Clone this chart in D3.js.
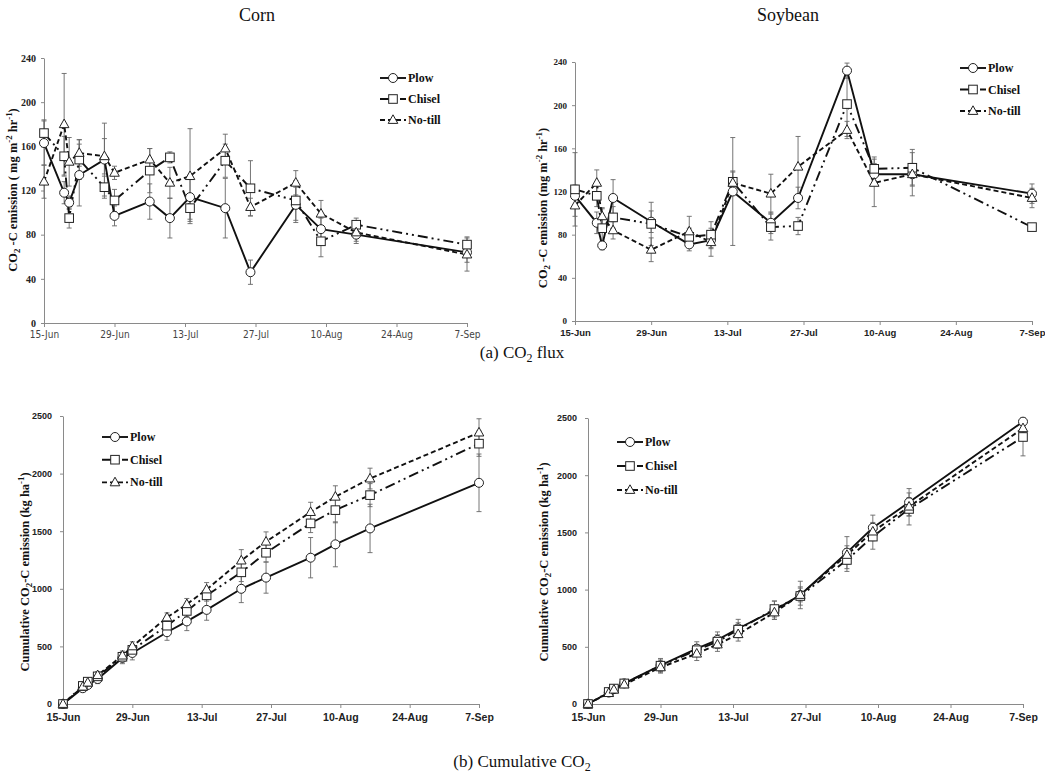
<!DOCTYPE html>
<html>
<head>
<meta charset="utf-8">
<script src="https://cdn.jsdelivr.net/npm/d3@7"></script>
<style>
  body { margin: 0; background: #fff; }
  svg { display: block; }
</style>
</head>
<body>
<div id="fig"></div>
<script>
// sampling dates
const cornDates = ["2011-06-15", "2011-06-19", "2011-06-20", "2011-06-22", "2011-06-27", "2011-06-29", "2011-07-06",
  "2011-07-10", "2011-07-14", "2011-07-21", "2011-07-26", "2011-08-04", "2011-08-09", "2011-08-16", "2011-09-07"];
const soyDates = ["2011-06-15", "2011-06-19", "2011-06-20", "2011-06-22", "2011-06-29", "2011-07-06",
  "2011-07-10", "2011-07-14", "2011-07-21", "2011-07-26", "2011-08-04", "2011-08-09", "2011-08-16", "2011-09-07"];
const tickDates = ["2011-06-15", "2011-06-29", "2011-07-13", "2011-07-27", "2011-08-10", "2011-08-24", "2011-09-07"];
const seriesNames = ["Plow", "Chisel", "No-till"];

// (a) CO2 flux, corn (mg m-2 hr-1)
const cornFluxPlow = [163, 118, 109, 134, 148, 97, 110, 95, 114, 104, 46, 107, 85, 80, 64];
const cornFluxChisel = [172, 151, 95, 148, 123, 111, 138, 150, 104, 147, 122, 111, 74, 89, 71];
const cornFluxNotill = [128, 180, 146, 154, 151, 136, 148, 127, 133, 158, 105, 127, 99, 82, 62];
const cornFluxPlowErr = [20, 10, 6, 28, 33, 9, 16, 18, 20, 27, 11, 16, 10, 8, 9];
const cornFluxChiselErr = [12, 18, 9, 18, 10, 10, 20, 5, 12, 15, 25, 18, 14, 6, 7];
const cornFluxNotillErr = [15, 46, 22, 12, 16, 6, 10, 14, 43, 13, 8, 11, 12, 8, 15];

// (a) CO2 flux, soybean
const soyFluxPlow = [116, 91, 70, 114, 92, 71, 75, 120, 91, 114, 232, 136, 136, 118];
const soyFluxChisel = [122, 116, 86, 96, 90, 78, 80, 129, 87, 88, 201, 141, 142, 87];
const soyFluxNotill = [107, 128, 97, 84, 66, 83, 73, 128, 118, 143, 177, 128, 136, 114];
const soyFluxPlowErr = [10, 10, 4, 17, 10, 6, 8, 50, 10, 10, 7, 10, 20, 9];
const soyFluxChiselErr = [34, 10, 18, 10, 20, 8, 12, 10, 12, 8, 30, 11, 17, 2];
const soyFluxNotillErr = [10, 12, 8, 8, 11, 14, 13, 10, 18, 28, 8, 22, 10, 9];

// (b) cumulative CO2-C, corn (kg ha-1)
const cornCumPlow = [0, 137, 165, 217, 400, 443, 623, 717, 817, 1000, 1097, 1270, 1386, 1524, 1920];
const cornCumChisel = [0, 157, 194, 240, 410, 470, 680, 808, 943, 1143, 1313, 1568, 1683, 1813, 2260];
const cornCumNotill = [0, 150, 185, 250, 420, 500, 751, 866, 994, 1245, 1409, 1666, 1799, 1957, 2356];
const cornCumPlowErr = [0, 20, 20, 40, 50, 60, 70, 80, 90, 120, 135, 175, 195, 210, 250];
const cornCumChiselErr = [0, 20, 20, 30, 30, 40, 40, 50, 50, 80, 80, 80, 110, 100, 110];
const cornCumNotillErr = [0, 20, 20, 30, 40, 40, 40, 50, 60, 95, 85, 85, 95, 90, 120];

// (b) cumulative CO2-C, soybean
const soyCumPlow = [0, 100, 130, 180, 338, 484, 560, 660, 820, 953, 1323, 1541, 1763, 2468];
const soyCumChisel = [0, 105, 135, 180, 335, 470, 545, 650, 830, 944, 1259, 1463, 1705, 2334];
const soyCumNotill = [0, 95, 125, 170, 320, 440, 520, 610, 800, 953, 1303, 1507, 1725, 2410];
const soyCumPlowErr = [0, 20, 20, 25, 60, 60, 70, 80, 80, 120, 140, 110, 120, 30];
const soyCumChiselErr = [0, 20, 20, 25, 50, 50, 60, 60, 70, 80, 100, 110, 140, 165];
const soyCumNotillErr = [0, 20, 20, 25, 50, 60, 60, 60, 60, 60, 80, 80, 80, 40];

const parse = d3.timeParse("%Y-%m-%d");
const fmt = d3.timeFormat("%-d-%b");

const styles = {
  "Plow": { dash: null, marker: "circle" },
  "Chisel": { dash: "10,4,2,4,2,4", marker: "square" },
  "No-till": { dash: "5,3", marker: "triangle" }
};

const svg = d3.select("#fig").append("svg")
  .attr("width", 1045)
  .attr("height", 773);

function drawMarker(g, type, x, y) {
  if (type === "circle") {
    g.append("circle").attr("cx", x).attr("cy", y).attr("r", 4.5)
      .attr("fill", "#fff").attr("stroke", "#222").attr("stroke-width", 1);
  } else if (type === "square") {
    g.append("rect").attr("x", x - 4.3).attr("y", y - 4.3).attr("width", 8.6).attr("height", 8.6)
      .attr("fill", "#fff").attr("stroke", "#222").attr("stroke-width", 1);
  } else {
    g.append("path").attr("d", `M${x},${y - 5.2}L${x + 4.8},${y + 3.4}L${x - 4.8},${y + 3.4}Z`)
      .attr("fill", "#fff").attr("stroke", "#222").attr("stroke-width", 1);
  }
}

function panel(cfg) {
  const g = svg.append("g");
  const dates = cfg.dates.map(parse);

  const x = d3.scaleTime()
    .domain([parse(tickDates[0]), parse(tickDates[tickDates.length - 1])])
    .range(cfg.xRange);
  const y = d3.scaleLinear()
    .domain(cfg.yDomain)
    .range(cfg.yRange);

  const xAxis = g.append("g")
    .attr("transform", `translate(0,${cfg.yRange[0]})`)
    .call(d3.axisBottom(x).tickValues(tickDates.map(parse)).tickFormat(fmt)
      .tickSize(4).tickSizeOuter(0).tickPadding(cfg.xPad));
  xAxis.selectAll("text")
    .attr("font-family", cfg.xFont)
    .attr("font-size", cfg.xSize)
    .attr("font-weight", cfg.xWeight)
    .attr("fill", cfg.xColor);

  const yAxis = g.append("g")
    .attr("transform", `translate(${cfg.xRange[0]},0)`)
    .call(d3.axisLeft(y).tickValues(cfg.yTicks).tickFormat(d3.format("d"))
      .tickSize(3).tickSizeOuter(0).tickPadding(cfg.yPad));
  yAxis.selectAll("text")
    .attr("font-family", cfg.yFont)
    .attr("font-size", cfg.ySize)
    .attr("font-weight", "bold")
    .attr("fill", "#222");

  g.selectAll(".domain, .tick line").attr("stroke", "#8a8a8a");

  // y axis title
  const t = g.append("text")
    .attr("transform", `translate(${cfg.titleX},${cfg.titleY}) rotate(-90)`)
    .attr("text-anchor", "middle")
    .attr("font-family", "'Liberation Serif', 'Times New Roman', serif")
    .attr("font-weight", "bold")
    .attr("font-size", cfg.titleSize)
    .attr("fill", "#111");
  cfg.title.forEach(([txt, kind]) => {
    const ts = t.append("tspan").text(txt);
    if (kind === "sub") ts.attr("font-size", cfg.titleSize * 0.7).attr("dy", 3);
    if (kind === "sup") ts.attr("font-size", cfg.titleSize * 0.7).attr("dy", -5);
    if (kind === "back") ts.attr("dy", -3);
    if (kind === "down") ts.attr("dy", 5);
  });

  const line = d3.line()
    .x(d => x(d.date))
    .y(d => y(d.v));

  const rows = cfg.series.map((vals, i) => ({
    name: seriesNames[i],
    pts: vals.map((v, j) => ({ date: dates[j], v: v, e: cfg.errors[i][j] }))
  }));

  // error bars
  rows.forEach(s => {
    s.pts.forEach(p => {
      if (!p.e) return;
      const cx = x(p.date);
      const y1 = y(p.v + p.e), y2 = y(p.v - p.e);
      g.append("line").attr("x1", cx).attr("x2", cx).attr("y1", y1).attr("y2", y2)
        .attr("stroke", "#666").attr("stroke-width", 0.9);
      [y1, y2].forEach(yy => {
        g.append("line").attr("x1", cx - 2.5).attr("x2", cx + 2.5).attr("y1", yy).attr("y2", yy)
          .attr("stroke", "#666").attr("stroke-width", 0.9);
      });
    });
  });

  // lines
  rows.forEach(s => {
    g.append("path")
      .datum(s.pts)
      .attr("fill", "none")
      .attr("stroke", "#111")
      .attr("stroke-width", 1.9)
      .attr("stroke-dasharray", styles[s.name].dash)
      .attr("d", line);
  });

  // markers
  rows.forEach(s => {
    s.pts.forEach(p => drawMarker(g, styles[s.name].marker, x(p.date), y(p.v)));
  });

  // legend
  const lg = g.append("g").attr("transform", `translate(${cfg.legend[0]},${cfg.legend[1]})`);
  seriesNames.forEach((name, i) => {
    const yy = i * cfg.legendGap;
    lg.append("line").attr("x1", 0).attr("x2", 26).attr("y1", yy).attr("y2", yy)
      .attr("stroke", "#111").attr("stroke-width", 1.9)
      .attr("stroke-dasharray", name === "Chisel" ? "10,4,2,4" : styles[name].dash);
    drawMarker(lg, styles[name].marker, 13, yy);
    lg.append("text").attr("x", 28).attr("y", yy + 4)
      .attr("font-family", "'Liberation Serif', 'Times New Roman', serif")
      .attr("font-weight", "bold").attr("font-size", 12).attr("fill", "#111")
      .text(name);
  });
}

const narrowFont = "'DejaVu Sans Condensed', 'Liberation Sans Narrow', 'Arial Narrow', sans-serif";
const boldSans = "'Liberation Sans', Arial, sans-serif";
const serif = "'Liberation Serif', 'Times New Roman', serif";

const fluxTitle = [["CO"], ["2", "sub"], [" -C emission ( mg m", "back"], ["-2", "sup"], [" hr", "down"], ["-1", "sup"], [")", "down"]];
const fluxTitle2 = [["CO"], ["2", "sub"], [" -C emission  (mg m", "back"], ["-2", "sup"], [" hr", "down"], ["-1", "sup"], [")", "down"]];
const cumTitle = [["Cumulative  CO"], ["2", "sub"], ["-C emission (kg ha", "back"], ["-1", "sup"], [")", "down"]];
const cumTitle2 = [["Cumulative CO"], ["2", "sub"], ["-C emission (kg ha", "back"], ["-1", "sup"], [")", "down"]];

panel({
  dates: cornDates, xRange: [44, 467], yRange: [323, 58], yDomain: [0, 240], yTicks: d3.range(0, 241, 40),
  series: [cornFluxPlow, cornFluxChisel, cornFluxNotill],
  errors: [cornFluxPlowErr, cornFluxChiselErr, cornFluxNotillErr],
  xFont: narrowFont, xSize: 10, xWeight: "normal", xColor: "#444", xPad: 4,
  yFont: serif, ySize: 10, yPad: 5,
  title: fluxTitle, titleX: 17, titleY: 190, titleSize: 12.5,
  legend: [380, 78], legendGap: 21
});

panel({
  dates: soyDates, xRange: [575, 1032], yRange: [321, 62], yDomain: [0, 240], yTicks: d3.range(0, 241, 40),
  series: [soyFluxPlow, soyFluxChisel, soyFluxNotill],
  errors: [soyFluxPlowErr, soyFluxChiselErr, soyFluxNotillErr],
  xFont: boldSans, xSize: 9.5, xWeight: "bold", xColor: "#222", xPad: 4,
  yFont: serif, ySize: 9, yPad: 5,
  title: fluxTitle2, titleX: 547, titleY: 208, titleSize: 12.5,
  legend: [960, 68], legendGap: 21.5
});

panel({
  dates: cornDates, xRange: [63, 479], yRange: [704, 416], yDomain: [0, 2500], yTicks: d3.range(0, 2501, 500),
  series: [cornCumPlow, cornCumChisel, cornCumNotill],
  errors: [cornCumPlowErr, cornCumChiselErr, cornCumNotillErr],
  xFont: boldSans, xSize: 10.5, xWeight: "bold", xColor: "#222", xPad: 6,
  yFont: boldSans, ySize: 9, yPad: 8,
  title: cumTitle, titleX: 29, titleY: 572, titleSize: 12.5,
  legend: [102, 437], legendGap: 22.7
});

panel({
  dates: soyDates, xRange: [588, 1023], yRange: [704, 418], yDomain: [0, 2500], yTicks: d3.range(0, 2501, 500),
  series: [soyCumPlow, soyCumChisel, soyCumNotill],
  errors: [soyCumPlowErr, soyCumChiselErr, soyCumNotillErr],
  xFont: boldSans, xSize: 10.5, xWeight: "bold", xColor: "#222", xPad: 6,
  yFont: boldSans, ySize: 9, yPad: 8,
  title: cumTitle2, titleX: 548, titleY: 562, titleSize: 12.5,
  legend: [617, 442], legendGap: 24
});

// panel headings and captions
const head = (txt, x0, y0) => svg.append("text")
  .attr("x", x0).attr("y", y0).attr("text-anchor", "middle")
  .attr("font-family", serif).attr("font-size", 18).attr("fill", "#111")
  .text(txt);
head("Corn", 257, 21);
head("Soybean", 788, 21);

const cap1 = svg.append("text").attr("x", 522).attr("y", 358).attr("text-anchor", "middle")
  .attr("font-family", serif).attr("font-size", 17).attr("fill", "#111");
cap1.append("tspan").text("(a)  CO");
cap1.append("tspan").text("2").attr("font-size", 12).attr("dy", 4);
cap1.append("tspan").text("  flux").attr("dy", -4);

const cap2 = svg.append("text").attr("x", 522).attr("y", 767).attr("text-anchor", "middle")
  .attr("font-family", serif).attr("font-size", 17).attr("fill", "#111");
cap2.append("tspan").text("(b)  Cumulative  CO");
cap2.append("tspan").text("2").attr("font-size", 12).attr("dy", 4);
</script>
</body>
</html>
